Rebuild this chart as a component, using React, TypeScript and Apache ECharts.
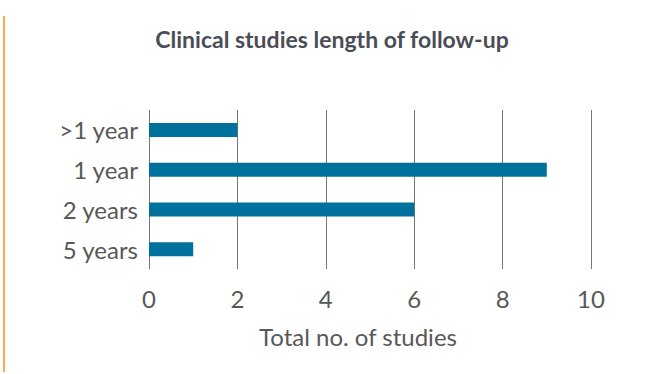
import React, { useEffect, useRef } from "react";
import * as echarts from "echarts";

const categories = [">1 year", "1 year", "2 years", "5 years"];
const studies = [2, 9, 6, 1];
const xTicks = { min: 0, max: 10, interval: 2 };
const titleText = "Clinical studies length of follow-up";
const xAxisName = "Total no. of studies";

export default function App() {
  const ref = useRef<HTMLDivElement>(null);
  useEffect(() => {
    if (!ref.current) return;
    const chart = echarts.init(ref.current, undefined, { renderer: "svg" });
    chart.setOption({
      animation: false,
      backgroundColor: "#ffffff",
      title: {
        text: titleText,
        left: 327,
        top: 22,
        textAlign: "center",
        textStyle: { fontFamily: "Lato", fontWeight: "bold", fontSize: 23, color: "#4a4d55" },
      },
      grid: { left: 149, right: 60, top: 110, bottom: 105, containLabel: false },
      xAxis: {
        type: "value",
        min: xTicks.min,
        max: xTicks.max,
        interval: xTicks.interval,
        name: xAxisName,
        nameLocation: "middle",
        nameGap: 55,
        nameTextStyle: { fontFamily: "Lato", fontSize: 24, color: "#585858", padding: [0, 24, 0, 0] },
        axisLine: { show: false },
        axisTick: { show: false },
        axisLabel: { margin: 17, fontFamily: "Lato", fontSize: 24, color: "#585858" },
        splitLine: { show: true, lineStyle: { color: "#777", width: 1 } },
      },
      yAxis: {
        type: "category",
        data: categories,
        inverse: true,
        axisLine: { show: false },
        axisTick: { show: false },
        axisLabel: { margin: 11, fontFamily: "Lato", fontSize: 24, color: "#585858" },
      },
      series: [
        {
          type: "bar",
          data: studies,
          barWidth: 14,
          itemStyle: { color: "#00719c" },
        },
      ],
      graphic: [
        {
          type: "line",
          shape: { x1: 4, y1: 16, x2: 4, y2: 372 },
          style: { stroke: "#f5b04a", lineWidth: 2 },
        },
      ],
    });
    return () => chart.dispose();
  }, []);
  return (
    <div
      ref={ref}
      style={{ position: "fixed", left: 0, top: 0, width: 651, height: 374 }}
    />
  );
}
